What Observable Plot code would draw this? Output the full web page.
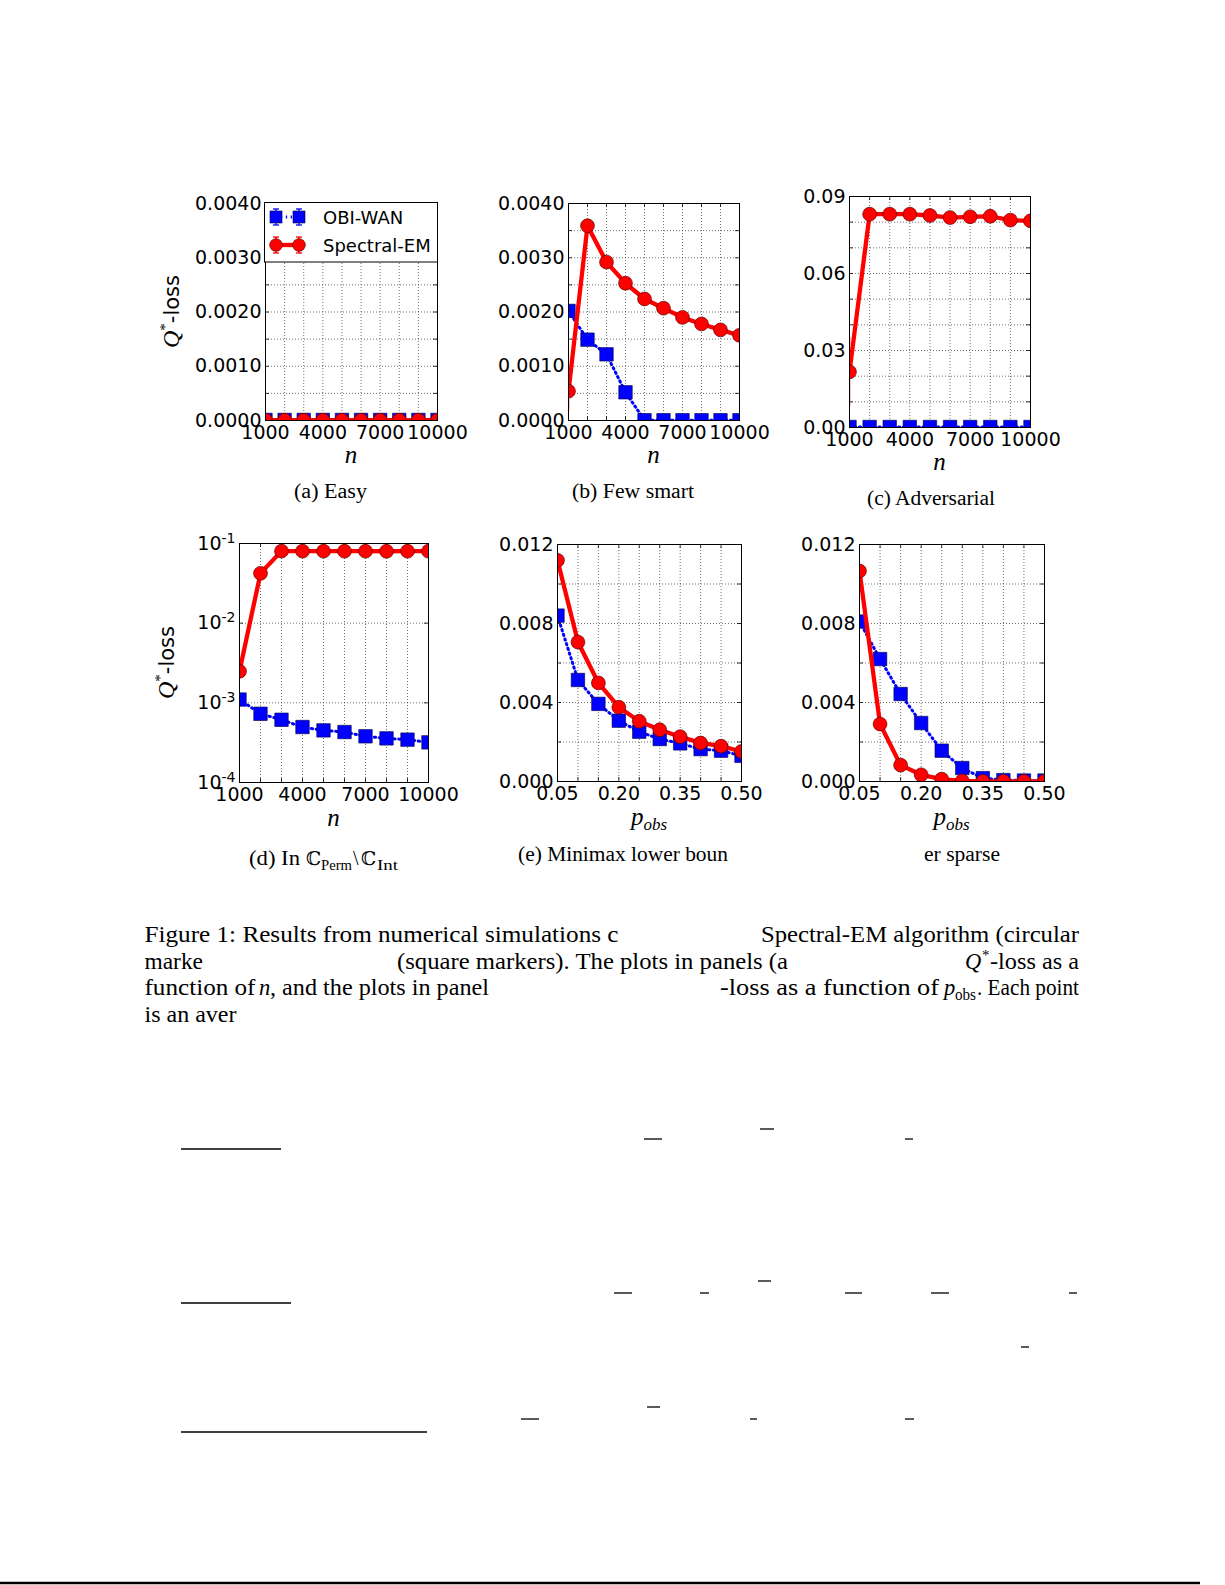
<!DOCTYPE html>
<html><head><meta charset="utf-8">
<script src="https://cdn.jsdelivr.net/npm/d3@7"></script>
<script src="https://cdn.jsdelivr.net/npm/@observablehq/plot@0.6"></script>
<style>
html,body{margin:0;padding:0;background:#fff;}
#page{position:relative;width:1225px;height:1585px;overflow:hidden;background:#fff;}
#page svg.panel{position:absolute;max-width:none;}
#overlay{position:absolute;left:0;top:0;}
</style></head><body><div id="page"></div>
<script>
// ---------- data ----------
const nValues = [1000, 2000, 3000, 4000, 5000, 6000, 7000, 8000, 9000, 10000];
const pValues = [0.05, 0.10, 0.15, 0.20, 0.25, 0.30, 0.35, 0.40, 0.45, 0.50];

const nTicks = [1000, 4000, 7000, 10000];
const pTicks = [0.05, 0.20, 0.35, 0.50];

const yTicksSmall = [0, 0.001, 0.002, 0.003, 0.004];
const yGridSmall = [0, 0.0005, 0.001, 0.0015, 0.002, 0.0025, 0.003, 0.0035, 0.004];
const yTicksAdv = [0, 0.03, 0.06, 0.09];
const yGridAdv = [0, 0.01, 0.02, 0.03, 0.04, 0.05, 0.06, 0.07, 0.08, 0.09];
const yTicksLog = [1e-4, 1e-3, 1e-2, 1e-1];
const yTicksObs = [0, 0.004, 0.008, 0.012];
const yGridObs = [0, 0.002, 0.004, 0.006, 0.008, 0.010, 0.012];

// (a) Easy
const easyObi  = [0.00001, 0.00001, 0.00001, 0.00001, 0.00001, 0.00001, 0.00001, 0.00001, 0.00001, 0.00001];
const easySpec = [0.000005, 0.000005, 0.000005, 0.000005, 0.000005, 0.000005, 0.000005, 0.000005, 0.000005, 0.000005];
// (b) Few smart
const fewObi  = [0.00202, 0.00149, 0.00122, 0.00052, 0.000005, 0.000005, 0.000005, 0.000005, 0.000005, 0.000005];
const fewSpec = [0.00054, 0.00359, 0.00292, 0.00253, 0.00224, 0.00207, 0.00190, 0.00178, 0.00167, 0.00157];
const fewSpecErr = [0.00036, 0, 0, 0, 0, 0, 0, 0, 0, 0];
// (c) Adversarial
const advObi  = [0.0002, 0.0002, 0.0002, 0.0002, 0.0002, 0.0002, 0.0002, 0.0002, 0.0002, 0.0002];
const advSpec = [0.0217, 0.0831, 0.0831, 0.0831, 0.0826, 0.0818, 0.0821, 0.0823, 0.0808, 0.0805];
const advSpecErr = [0.0133, 0, 0, 0, 0, 0, 0, 0, 0, 0];
// (d) In C_Perm \ C_Int (log scale)
const permObi  = [0.00110, 0.000729, 0.000613, 0.000497, 0.000451, 0.000430, 0.000380, 0.000358, 0.000345, 0.000319];
const permSpec = [0.00249, 0.0422, 0.0802, 0.0801, 0.0800, 0.0800, 0.0800, 0.0799, 0.0800, 0.0800];
// (e) Minimax lower bound
const minimaxObi  = [0.0084, 0.00514, 0.00393, 0.00308, 0.00252, 0.00215, 0.00193, 0.00164, 0.00156, 0.00130];
const minimaxSpec = [0.0112, 0.00706, 0.00499, 0.00376, 0.00305, 0.00262, 0.00227, 0.00195, 0.00179, 0.00152];
// (f) sparse
const sparseObi  = [0.0081, 0.0062, 0.00443, 0.00296, 0.00156, 0.00068, 0.00017, 0.00007, 0.00005, 0.00005];
const sparseSpec = [0.01066, 0.00291, 0.00083, 0.00034, 0.00012, 0.00003, 0.00001, 0.00001, 0.00001, 0.00001];

// ---------- drawing ----------
const page = document.getElementById("page");
const BLUE = "#0000ff", RED = "#ff0000";
const DOTS = "1.3,3.6";

function makePanel(cfg) {
  const [L, R, T, B] = cfg.frame;
  const mL = 80, mR = 45, mT = 12, mB = 40;
  const W = R - L, H = B - T;
  const rows = cfg.xs.map((x, i) => ({x, obi: cfg.obi[i], spec: cfg.spec[i], err: cfg.err ? cfg.err[i] : 0}));
  const gridStyle = {stroke: "#000", strokeOpacity: 0.7, strokeWidth: 0.8, strokeDasharray: "1,2"};
  const marks = [
    Plot.gridX(cfg.xgrid, gridStyle),
    Plot.gridY(cfg.ygrid, gridStyle),
    Plot.ruleX(cfg.xgrid, {x: d => d, insetTop: H - 4, stroke: "#000", strokeWidth: 0.8}),
    Plot.ruleX(cfg.xgrid, {x: d => d, insetBottom: H - 4, stroke: "#000", strokeWidth: 0.8}),
    Plot.ruleY(cfg.ytick, {y: d => d, insetRight: W - 4, stroke: "#000", strokeWidth: 0.8}),
    Plot.ruleY(cfg.ytick, {y: d => d, insetLeft: W - 4, stroke: "#000", strokeWidth: 0.8}),
    Plot.line(rows, {x: "x", y: "obi", stroke: BLUE, strokeWidth: 3, strokeDasharray: DOTS, clip: true}),
    Plot.dot(rows, {x: "x", y: "obi", symbol: "square", r: 7.6, fill: BLUE, stroke: "#000040", strokeWidth: 0.6, clip: true}),
    Plot.ruleX(rows.filter(d => d.err > 0), {x: "x", y1: d => d.spec - d.err, y2: d => d.spec + d.err, stroke: RED, strokeWidth: 1.5, clip: true}),
    Plot.line(rows, {x: "x", y: "spec", stroke: RED, strokeWidth: 4.3, clip: true}),
    Plot.dot(rows, {x: "x", y: "spec", r: 6.9, fill: RED, stroke: "#600000", strokeWidth: 0.7, clip: true}),
    Plot.frame({stroke: "#000", strokeWidth: 1}),
    Plot.axisX(cfg.xticks, {tickSize: 0, tickPadding: 5, tickFormat: cfg.xfmt, fontSize: 19, label: null}),
    Plot.axisY(cfg.yticks, {tickSize: 0, tickPadding: 4, tickFormat: cfg.yfmt, fontSize: 19, label: null})
  ];
  const svg = Plot.plot({
    width: W + mL + mR, height: H + mT + mB,
    marginLeft: mL, marginRight: mR, marginTop: mT, marginBottom: mB,
    x: {type: "linear", domain: cfg.xdomain},
    y: {type: cfg.ytype || "linear", domain: cfg.ydomain},
    style: {fontFamily: "DejaVu Sans", fontSize: "19px", color: "#000", background: "transparent", overflow: "visible"},
    marks
  });
  svg.classList.add("panel");
  svg.style.left = (L - mL) + "px";
  svg.style.top = (T - mT) + "px";
  page.appendChild(svg);
  if (cfg.ytype === "log") {
    d3.select(svg).selectAll("g[aria-label='y-axis tick label'] text").each(function () {
      const t = d3.select(this);
      const s = t.text();
      const exp = s.split("^")[1];
      t.text("10");
      t.append("tspan").attr("dy", "-0.5em").attr("font-size", "14px").text(exp);
    });
  }
  return svg;
}

const fmtN = d => String(d);
const fmtP = d3.format(".2f");

makePanel({frame: [265, 437, 203, 420], xs: nValues, obi: easyObi, spec: easySpec,
  xdomain: [1000, 10000], ydomain: [0, 0.004], xgrid: nValues, ygrid: yGridSmall, ytick: yGridSmall,
  xticks: nTicks, yticks: yTicksSmall, xfmt: fmtN, yfmt: d3.format(".4f")});
makePanel({frame: [568, 739, 203, 420], xs: nValues, obi: fewObi, spec: fewSpec, err: fewSpecErr,
  xdomain: [1000, 10000], ydomain: [0, 0.004], xgrid: nValues, ygrid: yGridSmall, ytick: yGridSmall,
  xticks: nTicks, yticks: yTicksSmall, xfmt: fmtN, yfmt: d3.format(".4f")});
makePanel({frame: [849, 1030, 196, 427], xs: nValues, obi: advObi, spec: advSpec, err: advSpecErr,
  xdomain: [1000, 10000], ydomain: [0, 0.09], xgrid: nValues, ygrid: yGridAdv, ytick: yGridAdv,
  xticks: nTicks, yticks: yTicksAdv, xfmt: fmtN, yfmt: d3.format(".2f")});
makePanel({frame: [239, 428, 543, 782], xs: nValues, obi: permObi, spec: permSpec,
  xdomain: [1000, 10000], ydomain: [1e-4, 1e-1], ytype: "log", xgrid: nValues, ygrid: yTicksLog, ytick: yTicksLog,
  xticks: nTicks, yticks: yTicksLog, xfmt: fmtN, yfmt: d => "10^" + Math.round(Math.log10(d))});
makePanel({frame: [557, 741, 544, 781], xs: pValues, obi: minimaxObi, spec: minimaxSpec,
  xdomain: [0.05, 0.5], ydomain: [0, 0.012], xgrid: pValues, ygrid: yGridObs, ytick: yGridObs,
  xticks: pTicks, yticks: yTicksObs, xfmt: fmtP, yfmt: d3.format(".3f")});
makePanel({frame: [859, 1044, 544, 781], xs: pValues, obi: sparseObi, spec: sparseSpec,
  xdomain: [0.05, 0.5], ydomain: [0, 0.012], xgrid: pValues, ygrid: yGridObs, ytick: yGridObs,
  xticks: pTicks, yticks: yTicksObs, xfmt: fmtP, yfmt: d3.format(".3f")});

// ---------- text overlay (labels, legend, captions) ----------
const SERIF = "'Liberation Serif', 'DejaVu Serif', serif";
const overlay = `
<svg id="overlay" width="1225" height="1585" xmlns="http://www.w3.org/2000/svg">
  <g fill="#000">
    <text transform="translate(179,311.5) rotate(-90)" text-anchor="middle"><tspan font-family="${SERIF}" font-style="italic" font-size="24">Q</tspan><tspan font-family="${SERIF}" font-size="15" dy="-9">*</tspan><tspan font-family="DejaVu Sans" font-size="21" dy="9">-loss</tspan></text>
    <text transform="translate(174,662.5) rotate(-90)" text-anchor="middle"><tspan font-family="${SERIF}" font-style="italic" font-size="24">Q</tspan><tspan font-family="${SERIF}" font-size="15" dy="-9">*</tspan><tspan font-family="DejaVu Sans" font-size="21" dy="9">-loss</tspan></text>
    <g font-family="${SERIF}" font-style="italic" font-size="25" text-anchor="middle">
      <text x="351" y="463">n</text>
      <text x="653.5" y="463">n</text>
      <text x="939.5" y="470">n</text>
      <text x="333.5" y="826">n</text>
      <text x="649" y="825"><tspan>p</tspan><tspan font-size="17" dy="5">obs</tspan></text>
      <text x="951.5" y="825"><tspan>p</tspan><tspan font-size="17" dy="5">obs</tspan></text>
    </g>
  </g>
  <!-- legend -->
  <g>
    <rect x="264.5" y="202.5" width="173" height="59.5" fill="#fff" stroke="#000" stroke-width="1"/>
    <line x1="276" x2="299" y1="217" y2="217" stroke="${BLUE}" stroke-width="3" stroke-dasharray="${DOTS}"/>
    <g stroke="${BLUE}" stroke-width="1.3">
      <line x1="276" x2="276" y1="209" y2="225"/><line x1="273" x2="279" y1="209" y2="209"/><line x1="273" x2="279" y1="225" y2="225"/>
      <line x1="299" x2="299" y1="209" y2="225"/><line x1="296" x2="302" y1="209" y2="209"/><line x1="296" x2="302" y1="225" y2="225"/>
    </g>
    <rect x="270" y="211" width="12" height="12" fill="${BLUE}" stroke="#000040" stroke-width="0.6"/>
    <rect x="293" y="211" width="12" height="12" fill="${BLUE}" stroke="#000040" stroke-width="0.6"/>
    <line x1="276" x2="299" y1="245" y2="245" stroke="${RED}" stroke-width="4.3"/>
    <g stroke="${RED}" stroke-width="1.3">
      <line x1="276" x2="276" y1="237" y2="253"/><line x1="273" x2="279" y1="237" y2="237"/><line x1="273" x2="279" y1="253" y2="253"/>
      <line x1="299" x2="299" y1="237" y2="253"/><line x1="296" x2="302" y1="237" y2="237"/><line x1="296" x2="302" y1="253" y2="253"/>
    </g>
    <circle cx="276" cy="245" r="6.3" fill="${RED}" stroke="#600000" stroke-width="0.7"/>
    <circle cx="299" cy="245" r="6.3" fill="${RED}" stroke="#600000" stroke-width="0.7"/>
    <text x="323" y="223.5" font-family="DejaVu Sans" font-size="18">OBI-WAN</text>
    <text x="323" y="251.5" font-family="DejaVu Sans" font-size="18">Spectral-EM</text>
  </g>
  <!-- sub-captions -->
  <g font-family="${SERIF}" font-size="20" fill="#000">
    <text x="294" y="498" textLength="73" lengthAdjust="spacingAndGlyphs">(a) Easy</text>
    <text x="572" y="498" textLength="122" lengthAdjust="spacingAndGlyphs">(b) Few smart</text>
    <text x="867" y="505" textLength="128" lengthAdjust="spacingAndGlyphs">(c) Adversarial</text>
    <text x="249" y="865" textLength="51" lengthAdjust="spacingAndGlyphs">(d) In</text>
    <text x="306" y="865" font-family="DejaVu Serif" font-size="19">&#8450;</text>
    <text x="321" y="870" font-size="14" textLength="31" lengthAdjust="spacingAndGlyphs">Perm</text>
    <text x="353" y="865">&#92;</text>
    <text x="361" y="865" font-family="DejaVu Serif" font-size="19">&#8450;</text>
    <text x="377" y="870" font-size="14" textLength="21" lengthAdjust="spacingAndGlyphs">Int</text>
    <text x="518" y="861" textLength="210" lengthAdjust="spacingAndGlyphs">(e) Minimax lower boun</text>
    <text x="924" y="861" textLength="76" lengthAdjust="spacingAndGlyphs">er sparse</text>
  </g>
  <!-- figure caption -->
  <g font-family="${SERIF}" font-size="22.5" fill="#000">
    <text x="144.5" y="942" textLength="474" lengthAdjust="spacingAndGlyphs">Figure 1:  Results from numerical simulations c</text>
    <text x="761" y="942" textLength="318" lengthAdjust="spacingAndGlyphs">Spectral-EM algorithm (circular</text>
    <text x="144.5" y="968.7" textLength="58.5" lengthAdjust="spacingAndGlyphs">marke</text>
    <text x="397" y="968.7" textLength="391" lengthAdjust="spacingAndGlyphs">(square markers). The plots in panels (a</text>
    <text x="965" y="968.7" font-style="italic">Q</text>
    <text x="982" y="960" font-size="15">*</text>
    <text x="990" y="968.7" textLength="89" lengthAdjust="spacingAndGlyphs">-loss as a</text>
    <text x="144.5" y="995.4" textLength="111" lengthAdjust="spacingAndGlyphs">function of</text>
    <text x="259" y="995.4" font-style="italic">n</text>
    <text x="270" y="995.4" textLength="219" lengthAdjust="spacingAndGlyphs">, and the plots in panel</text>
    <text x="720" y="995.4" textLength="219" lengthAdjust="spacingAndGlyphs">-loss as a function of</text>
    <text x="944" y="995.4" font-style="italic">p</text>
    <text x="955" y="1000" font-size="16" textLength="21" lengthAdjust="spacingAndGlyphs">obs</text>
    <text x="977" y="995.4" textLength="102" lengthAdjust="spacingAndGlyphs">. Each point</text>
    <text x="144.5" y="1022" textLength="92" lengthAdjust="spacingAndGlyphs">is an aver</text>
  </g>
  <!-- remaining page rules -->
  <g stroke="#000" stroke-width="1.3">
    <line x1="181" x2="281" y1="1149" y2="1149"/>
    <line x1="644" x2="662" y1="1139" y2="1139"/>
    <line x1="760" x2="774" y1="1129" y2="1129"/>
    <line x1="905" x2="913" y1="1139" y2="1139"/>
    <line x1="181" x2="291" y1="1303" y2="1303"/>
    <line x1="614" x2="632" y1="1293" y2="1293"/>
    <line x1="700" x2="709" y1="1293" y2="1293"/>
    <line x1="758" x2="771" y1="1281" y2="1281"/>
    <line x1="845" x2="862" y1="1293" y2="1293"/>
    <line x1="931" x2="949" y1="1293" y2="1293"/>
    <line x1="1069" x2="1077" y1="1293" y2="1293"/>
    <line x1="1021" x2="1029" y1="1347" y2="1347"/>
    <line x1="181" x2="427" y1="1432" y2="1432"/>
    <line x1="521" x2="539" y1="1419" y2="1419"/>
    <line x1="647" x2="660" y1="1407" y2="1407"/>
    <line x1="750" x2="757" y1="1419" y2="1419"/>
    <line x1="905" x2="914" y1="1419" y2="1419"/>
    <line x1="0" x2="1200" y1="1583" y2="1583" stroke-width="2.5"/>
  </g>
</svg>`;
page.insertAdjacentHTML("beforeend", overlay);
</script>
</body></html>
